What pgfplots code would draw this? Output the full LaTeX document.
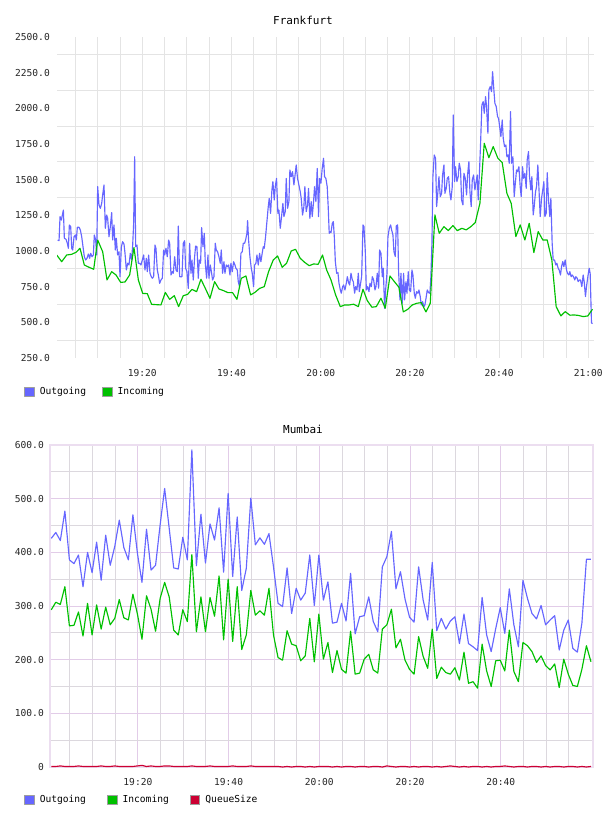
\documentclass[border=0pt]{standalone}
\usepackage{pgfplots}
\pgfplotsset{compat=1.18}
\usepackage{pgfplotstable}
\usepackage{fontspec}
\setmainfont{DejaVu Sans Mono}

\definecolor{outblue}{RGB}{102,102,255}
\definecolor{ingreen}{RGB}{0,192,0}
\definecolor{qred}{RGB}{204,0,51}
\definecolor{fgrid}{RGB}{228,228,228}
\definecolor{mgray}{RGB}{220,216,222}
\definecolor{mpurple}{RGB}{226,204,232}
\definecolor{mborder}{RGB}{236,222,240}

\newcommand\tickfont{\fontsize{9.6bp}{11bp}\selectfont}
\newcommand\titlefont{\fontsize{11bp}{13bp}\selectfont}

% Frankfurt, outgoing (minutes after 19:00, value)
\pgfplotstableread{
t v
1.03 1077
1.33 1072
1.55 1241
1.85 1217
2.07 1252
2.30 1287
2.52 1089
2.90 1082
3.19 1054
3.42 1019
3.64 1182
3.94 1171
4.17 1019
4.39 1007
4.69 1100
4.99 1112
5.21 1077
5.43 1166
5.81 1166
6.11 1147
6.41 1100
6.70 1030
7.00 960
7.30 937
7.60 949
7.90 979
8.20 949
8.42 984
8.72 960
9.02 972
9.24 1112
9.54 1077
9.77 972
9.99 1451
10.29 1322
10.59 1299
10.89 1334
11.11 1393
11.41 1463
11.71 1159
12.01 1252
12.23 1229
12.53 1100
12.83 1171
13.13 1269
13.35 1077
13.65 1182
13.95 1007
14.17 1089
14.47 972
14.77 995
15.00 820
15.30 1030
15.59 1065
15.89 1049
16.12 984
16.42 867
16.71 914
17.01 902
17.31 984
17.61 937
17.84 1042
18.06 1194
18.28 1661
18.51 1030
18.81 1042
19.11 914
19.40 914
19.70 902
20.00 937
20.30 972
20.60 867
20.90 949
21.12 855
21.42 972
21.72 844
22.02 820
22.24 809
22.54 820
22.84 1042
23.06 1019
23.36 867
23.59 832
23.89 773
24.18 797
24.48 809
24.78 1007
25.01 972
25.30 1019
25.60 960
25.90 1077
26.13 1054
26.43 832
26.72 855
26.95 844
27.25 960
27.55 867
27.84 855
28.07 1175
28.37 820
28.67 820
28.89 820
29.19 1054
29.49 1072
29.71 879
30.01 855
30.31 738
30.61 1054
30.91 844
31.13 937
31.43 797
31.73 960
31.95 1035
32.25 1030
32.55 809
32.77 937
33.07 914
33.30 1164
33.60 1030
33.90 1124
34.12 914
34.42 809
34.72 972
34.94 809
35.24 902
35.54 844
35.76 797
36.06 820
36.36 1054
36.58 1007
36.88 995
37.18 960
37.48 914
37.70 1007
38.00 844
38.30 925
38.53 844
38.83 902
39.12 890
39.35 902
39.65 832
39.87 914
40.17 855
40.47 925
40.77 902
40.99 879
41.29 867
41.52 785
41.81 750
42.11 984
42.41 995
42.64 1054
42.93 1054
43.16 1077
43.46 1124
43.61 1213
43.83 1077
44.13 960
44.43 879
44.65 844
44.95 750
45.18 902
45.47 914
45.70 972
46.00 902
46.30 984
46.59 925
46.82 972
47.12 1030
47.34 1019
47.64 1100
47.94 1206
48.24 1311
48.46 1369
48.76 1264
49.06 1428
49.28 1486
49.58 1358
49.81 1451
50.10 1509
50.40 1264
50.63 1287
50.93 1159
51.22 1241
51.52 1334
51.75 1241
52.05 1276
52.27 1509
52.57 1299
52.87 1346
53.09 1568
53.39 1521
53.69 1556
53.99 1463
54.21 1521
54.51 1603
54.81 1509
55.11 1463
55.41 1416
55.63 1369
55.93 1252
56.23 1311
56.45 1451
56.75 1276
57.05 1322
57.27 1439
57.57 1229
57.87 1346
58.10 1241
58.40 1346
58.62 1451
58.92 1346
59.22 1579
59.52 1241
59.74 1509
60.04 1474
60.34 1579
60.64 1650
60.86 1521
61.16 1509
61.46 1451
61.68 1311
61.91 1124
62.08 1136
62.31 1129
62.60 1194
62.83 1206
63.05 1101
63.28 926
63.58 844
63.87 848
64.10 774
64.40 727
64.62 704
64.92 750
65.14 762
65.44 727
65.74 774
65.97 820
66.26 778
66.49 762
66.79 844
67.09 797
67.31 785
67.61 704
67.83 750
68.13 727
68.43 844
68.66 715
68.95 774
69.18 820
69.48 1183
69.70 1171
70.00 996
70.23 727
70.52 750
70.82 715
71.05 774
71.35 750
71.57 820
71.87 797
72.17 727
72.39 750
72.69 844
72.99 739
73.21 1007
73.51 984
73.81 820
74.03 879
74.33 598
74.56 727
74.86 844
75.08 1101
75.38 1159
75.68 1183
75.90 1148
76.20 1112
76.42 996
76.72 961
76.95 1176
77.25 1183
77.47 855
77.77 657
77.99 844
78.29 634
78.59 844
78.81 657
79.11 785
79.34 704
79.64 855
79.86 727
80.16 715
80.46 867
80.68 832
80.98 704
81.21 669
81.50 715
81.80 704
82.03 727
82.32 680
82.55 622
82.85 645
83.15 610
83.37 622
83.67 680
83.89 727
84.19 708
84.49 704
84.71 820
84.94 1054
85.16 1521
85.46 1673
85.76 1650
85.99 1311
86.28 1416
86.51 1521
86.81 1381
87.11 1404
87.33 1533
87.63 1603
87.85 1404
88.15 1440
88.38 1510
88.67 1521
88.97 1404
89.20 1358
89.50 1451
89.72 1954
90.02 1486
90.24 1591
90.54 1486
90.84 1521
91.06 1615
91.36 1568
91.59 1358
91.89 1323
92.11 1545
92.41 1510
92.71 1393
92.93 1533
93.23 1626
93.46 1416
93.75 1311
93.98 1498
94.28 1533
94.58 1428
94.80 1475
95.10 1533
95.32 1358
95.62 1568
95.85 1755
96.14 2024
96.44 2047
96.67 1965
96.97 2082
97.19 2012
97.49 1825
97.71 2129
98.01 2152
98.31 2117
98.54 2257
98.83 2129
99.06 2035
99.36 2012
99.66 1942
99.88 1930
100.18 1860
100.40 1802
100.70 1918
100.93 1790
101.22 1732
101.52 1743
101.75 1661
102.04 1673
102.27 1615
102.57 1977
102.79 1615
103.09 1661
103.39 1381
103.61 1463
103.91 1568
104.14 1556
104.44 1591
104.73 1451
104.96 1381
105.26 1591
105.48 1510
105.78 1545
106.08 1440
106.30 1638
106.60 1697
106.83 1521
107.12 1428
107.35 1521
107.65 1253
107.87 1311
108.17 1416
108.40 1451
108.69 1603
108.92 1451
109.22 1241
109.52 1370
109.74 1416
110.04 1486
110.26 1241
110.56 1264
110.79 1549
111.08 1358
111.38 1241
111.61 1370
111.90 1054
112.13 937
112.43 937
112.73 902
112.95 914
113.25 879
113.47 867
113.77 832
114.00 890
114.29 926
114.52 890
114.82 937
115.12 867
115.34 844
115.64 832
115.86 855
116.16 820
116.39 832
116.68 820
116.98 797
117.21 820
117.51 809
117.73 785
118.03 797
118.25 797
118.55 750
118.85 832
119.08 785
119.37 681
119.60 750
119.90 820
120.20 879
120.42 844
120.72 496
120.94 491
}\frankout

% Frankfurt, incoming
\pgfplotstableread{
t v
0.80 972
1.92 925
3.04 972
4.17 977
5.14 991
6.03 1019
7.00 902
8.05 886
9.10 872
9.99 1077
11.11 995
12.08 797
13.13 855
14.10 832
15.15 780
16.12 783
17.16 832
18.13 1024
19.11 797
20.08 703
21.12 701
22.09 626
23.14 624
24.18 622
25.16 710
26.13 661
27.17 687
28.14 610
29.19 687
30.16 696
31.13 731
32.18 715
33.15 802
34.19 734
35.17 668
36.21 785
37.18 734
38.23 722
39.20 708
40.24 708
41.22 661
42.19 809
43.23 825
44.28 692
45.25 710
46.30 738
47.34 750
48.31 855
49.36 937
50.33 965
51.37 886
52.35 914
53.39 1000
54.36 1012
55.41 949
56.38 921
57.42 897
58.40 909
59.44 907
60.41 972
61.33 867
62.31 797
63.35 692
64.40 610
65.37 622
66.41 622
67.39 627
68.43 610
69.48 732
70.45 652
71.49 606
72.47 610
73.51 669
74.48 599
75.53 825
76.50 786
77.54 746
78.52 573
79.56 592
80.53 622
81.58 634
82.55 638
83.60 573
84.57 634
85.61 1253
86.58 1124
87.63 1171
88.60 1143
89.65 1178
90.62 1143
91.66 1159
92.63 1148
93.68 1171
94.65 1199
95.70 1334
96.67 1755
97.71 1654
98.68 1732
99.73 1650
100.70 1620
101.75 1404
102.72 1334
103.76 1101
104.74 1183
105.78 1077
106.75 1194
107.80 989
108.77 1136
109.81 1077
110.79 1077
111.83 937
112.80 610
113.85 545
114.82 575
115.87 550
116.84 552
117.88 548
118.85 540
119.90 545
120.94 592
}\frankin

% Mumbai, one sample per minute: outgoing, incoming, queue size
\pgfplotstableread{
t out in q
0.9 426 293 1
1.9 437 307 1
2.9 422 303 2
3.9 477 336 1
4.9 386 263 1
5.9 379 264 1
6.9 395 289 2
7.9 336 244 1
8.9 400 305 1
9.9 362 246 1
10.9 419 302 1
11.9 348 257 2
12.9 432 298 1
13.9 376 265 1
14.9 411 277 2
15.9 460 312 1
16.9 409 278 1
17.9 386 274 1
18.9 470 322 1
19.9 398 285 2
20.9 344 238 3
21.9 443 319 1
22.9 367 294 2
23.9 376 253 1
24.9 451 314 1
25.9 519 344 2
26.9 445 317 2
27.9 371 255 1
28.9 369 246 1
29.9 428 293 1
30.9 386 271 1
31.9 591 396 2
32.9 375 252 1
33.9 471 317 1
34.9 380 252 1
35.9 453 316 2
36.9 423 281 1
37.9 483 356 1
38.9 363 237 1
39.9 510 350 1
40.9 355 234 2
41.9 466 336 1
42.9 329 219 1
43.9 370 246 1
44.9 501 329 2
45.9 414 283 1
46.9 427 291 1
47.9 415 283 1
48.9 435 333 1
49.9 373 246 1
50.9 305 204 1
51.9 299 199 0
52.9 371 254 1
53.9 286 229 0
54.9 333 226 1
55.9 311 198 1
56.9 324 207 0
57.9 395 277 1
58.9 301 196 0
59.9 395 285 1
60.9 311 201 1
61.9 345 232 1
62.9 268 176 0
63.9 270 217 1
64.9 305 182 0
65.9 272 175 1
66.9 361 253 1
67.9 248 173 0
68.9 280 175 1
69.9 282 201 1
70.9 317 210 0
71.9 271 181 1
72.9 252 175 1
73.9 373 257 0
74.9 392 265 2
75.9 439 294 1
76.9 332 222 0
77.9 364 238 1
78.9 313 199 1
79.9 279 182 0
80.9 270 173 1
81.9 373 243 0
82.9 311 206 1
83.9 274 184 1
84.9 381 257 0
85.9 254 165 1
86.9 277 186 0
87.9 257 176 1
88.9 272 173 2
89.9 280 185 1
90.9 230 162 0
91.9 285 214 1
92.9 230 156 0
93.9 224 159 1
94.9 217 147 1
95.9 316 229 0
96.9 246 179 1
97.9 215 150 0
98.9 258 198 1
99.9 297 199 1
100.9 249 179 2
101.9 332 255 1
102.9 265 178 0
103.9 224 159 1
104.9 348 232 1
105.9 314 226 0
106.9 286 215 1
107.9 276 195 1
108.9 301 207 0
109.9 265 189 1
110.9 274 181 0
111.9 282 192 1
112.9 218 148 1
113.9 255 201 0
114.9 274 173 1
115.9 221 152 1
116.9 214 150 0
117.9 268 182 1
118.9 387 226 0
119.9 387 196 1
}\mumbai

\pgfplotsset{
  lbox/.style={legend image code/.code={%
    \draw[fill=#1, draw=black!38, line width=1bp] (0bp,-4.8bp) rectangle (9.6bp,4.8bp);}},
  common/.style={
    scale only axis,
    font=\tickfont,
    tick label style={font=\tickfont, inner sep=0pt, text=black!85},
    major tick length=0pt, minor tick length=0pt,
    xticklabel style={anchor=center, yshift=-15bp},
    minor xtick={5,10,15,25,30,35,45,50,55,65,70,75,85,90,95,105,110,115},
    xmajorgrids, xminorgrids, yminorgrids,
    legend cell align=left,
    legend columns=-1,
    every axis plot/.append style={line join=round, line width=1.15bp},
  },
}

\begin{document}
\begin{tikzpicture}
\useasboundingbox (0,-816bp) rectangle (608bp,0);

\node[font=\titlefont] at (303bp,-20bp) {Frankfurt};
\begin{axis}[common,
  at={(57bp,-358bp)}, anchor=south west,
  width=536.5bp, height=321bp,
  xmin=0.87, xmax=121.17,
  ymin=250, ymax=2500,
  axis line style={draw=none},
  xtick={20,40,60,80,100,120},
  xticklabels={19:20,19:40,20:00,20:20,20:40,21:00},
  ytick={250,500,...,2500},
  yticklabels={250.0,500.0,750.0,1000.0,1250.0,1500.0,1750.0,2000.0,2250.0,2500.0},
  minor ytick={375,625,...,2375},
  yticklabel style={anchor=east, xshift=-7bp},
  ymajorgrids=false,
  major grid style={draw=fgrid, line width=0.9bp},
  minor grid style={draw=fgrid, line width=0.9bp},
  legend style={at={(-0.0615,-0.1059)}, anchor=west, draw=none, fill=none,
    inner sep=0pt, font=\tickfont,
    nodes={inner sep=0pt},
    /tikz/every odd column/.append style={column sep=5bp},
    /tikz/every even column/.append style={column sep=16bp}},
]
\addplot[outblue, lbox=outblue] table[x=t, y=v] {\frankout};
\addlegendentry{Outgoing}
\addplot[ingreen, lbox=ingreen] table[x=t, y=v] {\frankin};
\addlegendentry{Incoming}
\end{axis}

\node[font=\titlefont] at (303bp,-429bp) {Mumbai};
\begin{axis}[common,
  at={(50bp,-767bp)}, anchor=south west,
  width=543bp, height=322bp,
  xmin=0.62, xmax=120.35,
  ymin=0, ymax=600,
  axis line style={draw=mborder, line width=1.6bp},
  xtick={20,40,60,80,100},
  xticklabels={19:20,19:40,20:00,20:20,20:40},
  ytick={0,100,...,600},
  yticklabels={0,100.0,200.0,300.0,400.0,500.0,600.0},
  minor ytick={50,150,...,550},
  yticklabel style={anchor=east, xshift=-6bp},
  ymajorgrids,
  major grid style={draw=mpurple, line width=0.9bp},
  minor grid style={draw=mgray, line width=0.9bp},
  legend style={at={(-0.0479,-0.1025)}, anchor=west, draw=none, fill=none,
    inner sep=0pt, font=\tickfont,
    nodes={inner sep=0pt},
    /tikz/every odd column/.append style={column sep=5bp},
    /tikz/every even column/.append style={column sep=21bp}},
]
\addplot[outblue, lbox=outblue] table[x=t, y=out] {\mumbai};
\addlegendentry{Outgoing}
\addplot[ingreen, lbox=ingreen] table[x=t, y=in] {\mumbai};
\addlegendentry{Incoming}
\addplot[qred, lbox=qred] table[x=t, y=q] {\mumbai};
\addlegendentry{QueueSize}
\end{axis}
\end{tikzpicture}
\end{document}
